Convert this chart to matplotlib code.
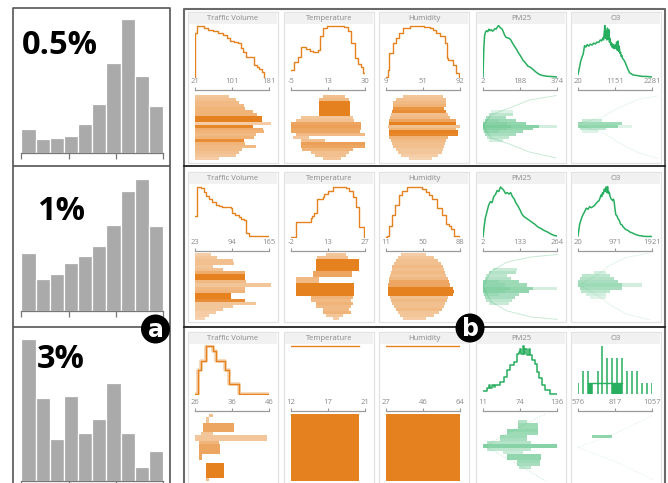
import numpy as np
import matplotlib
matplotlib.use('Agg')
import matplotlib.pyplot as plt
from matplotlib.colors import to_rgba
from matplotlib.patches import Rectangle, Circle

W, H = 668, 483
ORANGE = '#e6811f'
GREEN = '#27ae5f'
GRAY_TXT = '#8a8a8a'

# ---- (a) sample-rate histograms, bar heights ----
hist_05 = [24, 14, 15, 17, 29, 49, 90, 134, 77, 47]
hist_1 = [58, 32, 37, 48, 55, 65, 86, 120, 132, 85]
hist_3 = [142, 83, 42, 85, 48, 62, 98, 48, 14, 30]
hist_labels = ['0.5%', '1%', '3%']

attr_names = ['Traffic Volume', 'Temperature', 'Humidity', 'PM25', 'O3']

# ---- (b) row 1 : 0.5 % ----
tv1_ticks = ['21', '101', '181']
tv1_x = [21, 22, 25, 30, 40, 50, 60, 70, 81, 90, 96, 105, 113, 120, 125, 131, 142, 149, 155, 160, 165, 170]
tv1_y = [0, 0.85, 1.0, 0.99, 0.96, 0.92, 0.89, 0.86, 0.82, 0.76, 0.69, 0.68, 0.66, 0.56, 0.48, 0.39, 0.38, 0.23, 0.2, 0.16, 0.1, 0.0]
tv1_hi = [0.43, 0.51, 0.55, 0.61, 0.63, 0.72, 0.78, 0.84, 0.84, 0.95, 0.72, 0.85, 0.86, 0.76, 0.74, 0.61, 0.63, 0.76, 0.59, 0.55, 0.51, 0.30]
tv1_a = [0.45, 0.5, 0.55, 0.55, 0.6, 0.6, 0.6, 1.0, 1.0, 0.4, 0.95, 0.65, 0.6, 0.55, 0.6, 0.9, 0.6, 0.55, 0.55, 0.5, 0.45, 0.4]

temp1_ticks = ['-5', '13', '30']
temp1_x = [-5, -3.4, -1.7, -0.1, 2.3, 4.0, 5.6, 8.0, 8.5, 10.1, 12.1, 17.0, 20.2, 21.9, 23.5, 25.1, 26.7, 28.0, 29.2, 30]
temp1_y = [0.14, 0.30, 0.38, 0.59, 0.55, 0.51, 0.49, 0.53, 0.79, 0.95, 0.99, 1.0, 0.97, 0.89, 0.66, 0.36, 0.26, 0.2, 0.07, 0.07]
temp1_lo = [0.40, 0.35, 0.35, 0.35, 0.35, 0.35, 0.35, 0.125, 0.06, 0.0, 0.0, 0.0, 0.0, 0.06, 0.03, 0.12, 0.125, 0.125, 0.14, 0.25, 0.30, 0.40]
temp1_hi = [0.67, 0.73, 0.74, 0.74, 0.74, 0.74, 0.74, 0.77, 0.79, 0.875, 0.875, 0.88, 0.86, 0.92, 0.23, 0.42, 0.92, 0.92, 0.77, 0.72, 0.69, 0.62]
temp1_a = [0.5, 0.55, 1, 1, 1, 1, 1, 0.45, 0.5, 0.7, 0.75, 0.7, 0.7, 0.55, 0.45, 0.5, 0.75, 0.7, 0.6, 0.5, 0.5, 0.45]

hum1_ticks = ['9', '51', '92']
hum1_x = [9, 10.8, 12.7, 16.5, 20.3, 24, 27.8, 35.4, 45, 52, 58, 62, 65.6, 70, 75, 77, 78.8, 84, 88, 91]
hum1_y = [0.0, 0.13, 0.46, 0.66, 0.76, 0.86, 0.95, 0.99, 1.0, 0.98, 0.95, 0.91, 0.86, 0.8, 0.66, 0.36, 0.33, 0.23, 0.07, 0.0]
hum1_lo = [0.21, 0.125, 0.083, 0.083, 0.083, 0.075, 0.06, 0.05, 0.04, 0.033, 0.02, 0.033, 0.033, 0.033, 0.04, 0.06, 0.07, 0.083, 0.125, 0.15, 0.19, 0.29]
hum1_hi = [0.71, 0.75, 0.75, 0.75, 0.73, 0.75, 0.77, 0.80, 0.875, 0.88, 0.92, 0.875, 0.90, 0.90, 0.77, 0.75, 0.74, 0.73, 0.71, 0.70, 0.65, 0.58]
hum1_a = [0.45, 0.5, 0.55, 0.6, 0.85, 0.9, 0.5, 0.55, 0.7, 1.0, 0.5, 0.6, 1.0, 0.95, 0.6, 0.55, 0.5, 0.5, 0.45, 0.45, 0.4, 0.35]

pm1_ticks = ['2', '188', '374']
pm1_x = [2, 6, 10, 14, 20, 26, 32, 38, 44, 50, 56, 62, 68, 74, 80, 86, 92, 98, 104, 110, 118, 126, 134, 142, 150, 160, 170, 180, 192, 204, 216, 228, 240, 255, 270, 285, 300, 320, 340, 374]
pm1_y = [0, 0.55, 0.8, 0.87, 0.9, 0.88, 0.93, 0.9, 0.92, 0.89, 0.91, 0.94, 0.93, 0.97, 1.0, 0.97, 0.95, 0.93, 0.88, 0.82, 0.77, 0.76, 0.75, 0.72, 0.66, 0.6, 0.54, 0.47, 0.4, 0.32, 0.27, 0.21, 0.19, 0.14, 0.09, 0.05, 0.03, 0.015, 0.01, 0.0]
pm1_row = [5, 6, 7, 8, 9, 10, 10, 11, 12, 13, 14, 15, 8, 9, 10, 11, 12]
pm1_lo = [0.10, 0.07, 0.04, 0.02, 0.0, 0.0, 0.70, 0.0, 0.01, 0.03, 0.05, 0.07, 0.0, 0.0, 0.0, 0.0, 0.0]
pm1_hi = [0.37, 0.37, 0.29, 0.41, 0.54, 0.70, 0.93, 0.62, 0.50, 0.41, 0.33, 0.25, 0.2, 0.3, 0.35, 0.3, 0.2]
pm1_a = [0.15, 0.3, 0.4, 0.45, 0.5, 0.55, 0.2, 0.5, 0.45, 0.4, 0.3, 0.2, 0.1, 0.1, 0.12, 0.1, 0.1]
pm1_env_x = [0.0, 0.1, 0.33, 0.58, 0.91]
pm1_env_top = [10.5, 6.7, 4.4, 1.7, 0.2]
pm1_env_bot = [10.5, 14.5, 16.6, 19.3, 21.3]

o3_1_ticks = ['20', '1151', '2281']
o3_1_x = [20, 60, 100, 140, 180, 220, 260, 300, 350, 400, 450, 500, 550, 600, 650, 700, 740, 780, 800, 820,
          840, 860, 880, 900, 920, 940, 960, 980, 1000, 1020, 1040, 1060, 1080, 1100, 1120, 1140, 1160, 1180, 1200, 1220,
          1240, 1260, 1280, 1300, 1320, 1340, 1360, 1380, 1400, 1450, 1500, 1550, 1600, 1650, 1700, 1800, 1900, 2000, 2100, 2200, 2281]
o3_1_y = [0.05, 0.17, 0.3, 0.38, 0.45, 0.61, 0.58, 0.63, 0.6, 0.64, 0.62, 0.66, 0.64, 0.68, 0.67, 0.72, 0.7, 0.76, 0.72, 0.85,
          1.0, 0.75, 0.9, 0.72, 0.95, 0.73, 0.92, 0.68, 0.75, 0.62, 0.66, 0.58, 0.64, 0.56, 0.62, 0.55, 0.62, 0.56, 0.68, 0.52,
          0.7, 0.5, 0.6, 0.46, 0.48, 0.4, 0.42, 0.36, 0.35, 0.3, 0.22, 0.14, 0.08, 0.06, 0.04, 0.03, 0.02, 0.01, 0.01, 0.005, 0.0]
o3_1_row = [8, 9, 10, 11, 12, 10]
o3_1_lo = [0.05, 0.0, 0.0, 0.02, 0.05, 0.5]
o3_1_hi = [0.3, 0.55, 0.5, 0.35, 0.25, 0.68]
o3_1_a = [0.25, 0.45, 0.5, 0.3, 0.15, 0.15]
o3_1_env_x = [0.03, 0.3, 0.5, 0.75, 1.0]
o3_1_env_top = [9.5, 7.5, 4.5, 1.5, 0.3]
o3_1_env_bot = [10.5, 12.5, 16, 19.5, 21.5]

# ---- (b) row 2 : 1 % ----
tv2_ticks = ['23', '94', '165']
tv2_x = [23, 27.5, 30, 33.9, 40.3, 45, 49.9, 56, 62.7, 70, 75.5, 85, 91.4, 94.6, 100, 107.4, 112, 117, 120.2, 126.6, 140, 165]
tv2_y = [0.41, 0.99, 1.0, 0.97, 0.89, 0.82, 0.76, 0.7, 0.63, 0.61, 0.6, 0.59, 0.58, 0.47, 0.43, 0.39, 0.36, 0.34, 0.08, 0.02, 0.01, 0.01]
tv2_hi = [0.2, 0.28, 0.47, 0.49, 0.22, 0.35, 0.62, 0.62, 0.62, 0.64, 0.95, 0.63, 0.62, 0.45, 0.45, 0.62, 0.76, 0.47, 0.35, 0.26, 0.18, 0.12]
tv2_a = [0.4, 0.45, 0.5, 0.5, 0.45, 0.5, 0.65, 1, 1, 0.55, 0.45, 0.55, 0.6, 1, 1, 0.9, 0.45, 0.45, 0.45, 0.4, 0.4, 0.35]

temp2_ticks = ['-2', '13', '27']
temp2_x = [-2, -0.2, 5.9, 6.3, 7.0, 8.1, 10.4, 10.8, 12.5, 14.6, 17, 19.4, 20.8, 22.2, 23.3, 24.7, 26.7, 27]
temp2_y = [0.0, 0.30, 0.37, 0.42, 0.47, 0.76, 0.80, 0.86, 0.92, 0.99, 1.0, 0.97, 0.92, 0.79, 0.6, 0.19, 0.0, 0.0]
temp2_lo = [0.44, 0.33, 0.31, 0.31, 0.31, 0.31, 0.28, 0.28, 0.06, 0.06, 0.06, 0.06, 0.06, 0.06, 0.25, 0.25, 0.31, 0.31, 0.40, 0.40, 0.44, 0.52]
temp2_hi = [0.69, 0.71, 0.85, 0.85, 0.85, 0.85, 0.76, 0.76, 0.35, 0.35, 0.79, 0.79, 0.79, 0.79, 0.77, 0.75, 0.77, 0.75, 0.73, 0.75, 0.65, 0.60]
temp2_a = [0.45, 0.5, 1, 1, 1, 1, 0.7, 0.7, 0.55, 0.55, 1, 1, 1, 1, 0.6, 0.55, 0.6, 0.55, 0.55, 0.6, 0.45, 0.4]

hum2_ticks = ['11', '50', '88']
hum2_x = [11, 12, 13.8, 17.3, 20.8, 24.3, 27.7, 33, 41.7, 48, 52.2, 55.6, 59, 64.3, 69.5, 73, 76.5, 78.2, 81.7, 84, 88]
hum2_y = [0, 0.02, 0.21, 0.44, 0.63, 0.83, 0.92, 0.99, 0.99, 0.95, 0.89, 0.83, 0.76, 0.57, 0.44, 0.25, 0.21, 0.15, 0.02, 0.02, 0.0]
hum2_lo = [0.19, 0.15, 0.12, 0.10, 0.08, 0.075, 0.06, 0.05, 0.04, 0.033, 0.02, 0.02, 0.02, 0.03, 0.05, 0.06, 0.08, 0.10, 0.125, 0.15, 0.17, 0.21]
hum2_hi = [0.5, 0.6, 0.65, 0.69, 0.71, 0.73, 0.74, 0.75, 0.77, 0.79, 0.80, 0.84, 0.85, 0.84, 0.77, 0.76, 0.74, 0.72, 0.70, 0.66, 0.60, 0.5]
hum2_a = [0.4, 0.45, 0.5, 0.5, 0.55, 0.5, 0.55, 0.5, 0.55, 0.7, 0.7, 1, 1, 1, 0.5, 0.55, 0.5, 0.5, 0.55, 0.45, 0.45, 0.4]

pm2_ticks = ['2', '133', '264']
pm2_x = [2, 6, 10, 16, 22, 28, 34, 40, 46, 52, 58, 64, 70, 76, 82, 88, 94, 100, 106, 112, 118, 124, 132, 140, 148, 156, 166, 176, 186, 196, 206, 218, 230, 242, 254, 264]
pm2_y = [0, 0.2, 0.37, 0.5, 0.63, 0.7, 0.68, 0.8, 0.84, 0.92, 0.9, 0.99, 0.96, 0.92, 0.86, 0.88, 0.85, 0.88, 0.8, 0.76, 0.68, 0.63, 0.55, 0.45, 0.4, 0.37, 0.33, 0.29, 0.25, 0.2, 0.17, 0.13, 0.1, 0.06, 0.03, 0.02]
pm2_row = [5, 6, 7, 8, 9, 10, 11, 11, 12, 13, 14, 15, 16, 9, 10, 11, 12, 13]
pm2_lo = [0.12, 0.08, 0.04, 0.02, 0.0, 0.0, 0.0, 0.62, 0.0, 0.01, 0.02, 0.04, 0.07, 0.0, 0.0, 0.0, 0.0, 0.0]
pm2_hi = [0.42, 0.41, 0.30, 0.35, 0.45, 0.55, 0.62, 0.93, 0.58, 0.45, 0.40, 0.36, 0.33, 0.2, 0.28, 0.34, 0.28, 0.2]
pm2_a = [0.25, 0.35, 0.3, 0.35, 0.45, 0.45, 0.5, 0.2, 0.5, 0.4, 0.4, 0.3, 0.25, 0.1, 0.1, 0.12, 0.1, 0.1]
pm2_env_x = [0.0, 0.1, 0.3, 0.6, 0.93]
pm2_env_top = [11, 6, 3, 1.3, 0.5]
pm2_env_bot = [11, 16, 19, 21, 21.8]

o3_2_ticks = ['20', '971', '1921']
o3_2_x = [20, 62, 105, 147, 190, 231, 275, 320, 360, 400, 440, 480, 527, 560, 590, 611, 630, 650, 670, 696,
          720, 740, 760, 780, 800, 823, 845, 865, 890, 910, 930, 949, 970, 992, 1020, 1050, 1080, 1118, 1150, 1180,
          1245, 1300, 1350, 1414, 1500, 1580, 1668, 1750, 1850, 1921]
o3_2_y = [0.02, 0.25, 0.36, 0.44, 0.5, 0.57, 0.55, 0.6, 0.58, 0.6, 0.62, 0.66, 0.7, 0.72, 0.78, 0.83, 0.8, 0.88, 0.85, 0.95,
          0.9, 0.99, 0.88, 1.0, 0.86, 0.89, 0.8, 0.76, 0.74, 0.72, 0.75, 0.7, 0.55, 0.44, 0.42, 0.36, 0.33, 0.25, 0.24, 0.2,
          0.15, 0.13, 0.1, 0.08, 0.05, 0.03, 0.02, 0.01, 0.01, 0.01]
o3_2_row = [6, 7, 8, 9, 10, 10, 11, 12, 13, 14]
o3_2_lo = [0.2, 0.05, 0.03, 0.0, 0.0, 0.55, 0.02, 0.04, 0.1, 0.15]
o3_2_hi = [0.35, 0.4, 0.45, 0.5, 0.55, 0.8, 0.55, 0.4, 0.35, 0.35]
o3_2_a = [0.2, 0.3, 0.35, 0.4, 0.45, 0.2, 0.4, 0.3, 0.2, 0.15]
o3_2_env_x = [0.05, 0.25, 0.4, 0.6, 0.9]
o3_2_env_top = [10, 7, 4, 1.5, 0]
o3_2_env_bot = [11, 14, 17, 20, 22]

# ---- (b) row 3 : 3 % ----
tv3_ticks = ['26', '36', '46']
tv3_x = [26, 26.7, 27.6, 29, 30.9, 31.8, 34.1, 35.1, 37.9, 46]
tv3_y = [0.01, 0.5, 0.69, 1.0, 0.9, 0.69, 0.5, 0.21, 0.01, 0.01]
tv3_lo = [0.18, 0.14, 0.14, 0.10, 0.10, 0.10, 0.075, 0.0, 0.0, 0.05, 0.046, 0.046, 0.046, 0.046, 0.046, 0, 0.14, 0.14, 0.14, 0.14, 0.14, 0.14]
tv3_hi = [0.22, 0.18, 0.18, 0.49, 0.49, 0.49, 0.22, 0.9, 0.9, 0.30, 0.31, 0.31, 0.31, 0.09, 0.09, 0, 0.36, 0.36, 0.36, 0.36, 0.36, 0.18]
tv3_a = [0.5, 0.45, 0.45, 0.7, 0.7, 0.7, 0.45, 0.45, 0.45, 0.6, 0.7, 0.7, 0.7, 0.7, 0.7, 0, 1, 1, 1, 1, 1, 0.5]

temp3_ticks = ['12', '17', '21']
temp3_x = [12, 20.3]
temp3_y = [1.0, 1.0]
temp3_hi = [0.85]
temp3_span = [22]

hum3_ticks = ['27', '46', '64']
hum3_x = [27, 63.6]
hum3_y = [1.0, 1.0]
hum3_hi = [0.92]
hum3_span = [22]

pm3_ticks = ['11', '74', '136']
pm3_x = [11, 17.8, 20.6, 23, 26.2, 29, 32, 34.6, 40.3, 45.9, 51.5, 57.2, 62.8, 68.4, 71.2, 74, 76, 78.6, 80, 82.5, 85, 88.1, 91, 93.8, 99.4, 102.2, 105, 110.7, 116.3, 124.7, 136]
pm3_y = [0.07, 0.12, 0.19, 0.13, 0.19, 0.14, 0.19, 0.19, 0.26, 0.35, 0.5, 0.6, 0.67, 0.85, 0.88, 0.95, 0.85, 1.0, 0.85, 0.95, 0.81, 0.95, 0.81, 0.71, 0.64, 0.47, 0.33, 0.19, 0.08, 0.0, 0.0]
pm3_row = [2, 3, 4, 5, 6, 7, 8, 9, 10, 11, 12, 13, 14, 15, 16, 17]
pm3_lo = [0.44, 0.44, 0.44, 0.3, 0.3, 0.21, 0.21, 0.05, 0.0, 0.05, 0.25, 0.3, 0.3, 0.42, 0.42, 0.45]
pm3_hi = [0.55, 0.69, 0.69, 0.69, 0.69, 0.55, 0.55, 0.6, 0.93, 0.6, 0.5, 0.73, 0.73, 0.71, 0.71, 0.6]
pm3_a = [0.35, 0.45, 0.45, 0.5, 0.45, 0.45, 0.4, 0.35, 0.55, 0.3, 0.25, 0.5, 0.5, 0.45, 0.4, 0.3]
pm3_env_x = [0.02, 0.4, 0.78]
pm3_env_top = [10.5, 5, 0]
pm3_env_bot = [10.5, 16, 22]

o3_3_ticks = ['576', '817', '1057']
o3_3_x = [576, 608, 638, 670, 705, 735, 767, 799, 831, 864, 896, 928, 960, 993, 1025, 1057]
o3_3_y = [0.24, 0.49, 0.49, 0.24, 0.49, 1.0, 0.75, 0.75, 0.75, 0.75, 0.49, 0.49, 0.49, 0.24, 0.24, 0.24]
o3_3_block_lo = [638, 799]
o3_3_block_hi = [670, 864]
o3_3_block_y = [0.24, 0.24]
o3_3_row = [7]
o3_3_lo = [0.18]
o3_3_hi = [0.43]
o3_3_a = [0.5]
o3_3_env_x = [0.0, 0.5, 0.93]
o3_3_env_top = [11, 6, 0.5]
o3_3_env_bot = [11, 16, 21.5]

# table of cards built from the arrays above
cards = [
    [dict(kind='step', x=tv1_x, y=tv1_y, ticks=tv1_ticks, vio=dict(hi=tv1_hi, a=tv1_a)),
     dict(kind='step', x=temp1_x, y=temp1_y, ticks=temp1_ticks, vio=dict(lo=temp1_lo, hi=temp1_hi, a=temp1_a)),
     dict(kind='step', x=hum1_x, y=hum1_y, ticks=hum1_ticks, vio=dict(lo=hum1_lo, hi=hum1_hi, a=hum1_a)),
     dict(kind='line', x=pm1_x, y=pm1_y, ticks=pm1_ticks,
          vio=dict(row=pm1_row, lo=pm1_lo, hi=pm1_hi, a=pm1_a), env=(pm1_env_x, pm1_env_top, pm1_env_bot, 0.25, '-')),
     dict(kind='line', x=o3_1_x, y=o3_1_y, ticks=o3_1_ticks,
          vio=dict(row=o3_1_row, lo=o3_1_lo, hi=o3_1_hi, a=o3_1_a), env=(o3_1_env_x, o3_1_env_top, o3_1_env_bot, 0.1, '-'))],
    [dict(kind='step', x=tv2_x, y=tv2_y, ticks=tv2_ticks, vio=dict(hi=tv2_hi, a=tv2_a)),
     dict(kind='step', x=temp2_x, y=temp2_y, ticks=temp2_ticks, vio=dict(lo=temp2_lo, hi=temp2_hi, a=temp2_a)),
     dict(kind='step', x=hum2_x, y=hum2_y, ticks=hum2_ticks, vio=dict(lo=hum2_lo, hi=hum2_hi, a=hum2_a)),
     dict(kind='line', x=pm2_x, y=pm2_y, ticks=pm2_ticks,
          vio=dict(row=pm2_row, lo=pm2_lo, hi=pm2_hi, a=pm2_a), env=(pm2_env_x, pm2_env_top, pm2_env_bot, 0.25, '-')),
     dict(kind='line', x=o3_2_x, y=o3_2_y, ticks=o3_2_ticks,
          vio=dict(row=o3_2_row, lo=o3_2_lo, hi=o3_2_hi, a=o3_2_a), env=(o3_2_env_x, o3_2_env_top, o3_2_env_bot, 0.12, '-'))],
    [dict(kind='step', x=tv3_x, y=tv3_y, ticks=tv3_ticks, vio=dict(lo=tv3_lo, hi=tv3_hi, a=tv3_a)),
     dict(kind='step', x=temp3_x, y=temp3_y, ticks=temp3_ticks, vio=dict(hi=temp3_hi, a=[1.0], span=temp3_span)),
     dict(kind='step', x=hum3_x, y=hum3_y, ticks=hum3_ticks, vio=dict(hi=hum3_hi, a=[1.0], span=hum3_span)),
     dict(kind='pstep', x=pm3_x, y=pm3_y, ticks=pm3_ticks,
          vio=dict(row=pm3_row, lo=pm3_lo, hi=pm3_hi, a=pm3_a), env=(pm3_env_x, pm3_env_top, pm3_env_bot, 0.3, ':')),
     dict(kind='spikes', x=o3_3_x, y=o3_3_y, ticks=o3_3_ticks,
          vio=dict(row=o3_3_row, lo=o3_3_lo, hi=o3_3_hi, a=o3_3_a), env=(o3_3_env_x, o3_3_env_top, o3_3_env_bot, 0.18, ':'))],
]

# layout (pixels)
CARD_X = [188, 284, 379, 476, 571]
CARD_W = 90
ROW_TOP = [12, 172, 332]
ROW_BOT = [163, 322, 486]
LINE_TOP = [24, 185, 345]
LINE_BOT = [78, 238, 395]
AXIS_Y = [90, 251, 410.5]
VIO_TOP = [95, 253, 414]
VIO_BOT = [160, 320, 481]

fig = plt.figure(figsize=(W / 100, H / 100), dpi=100)


def px_axes(x, y, w, h, **kw):
    ax = fig.add_axes([x / W, 1 - (y + h) / H, w / W, h / H], **kw)
    ax.patch.set_visible(False)
    return ax


bg = px_axes(0, 0, W, H)
bg.set_xlim(0, W)
bg.set_ylim(H, 0)
bg.axis('off')

# frames
frame = dict(color='#555555', lw=1.2, solid_capstyle='butt')
bg.plot([13, 13, 170, 170], [H, 8, 8, H], **frame)
for yy in [165.5, 327]:
    bg.plot([13, 170], [yy, yy], **frame)
bg.plot([184, 184, 665, 665], [H, 8.5, 8.5, H], color='#6a6a6a', lw=1.5)
for yy in [165.5, 326.5]:
    bg.plot([184, 665], [yy, yy], color='#222222', lw=1.3)

# (a) histograms
for heights, base in zip([hist_05, hist_1, hist_3], [153, 311, 481]):
    ax = px_axes(21.5, base - 146, 141.5, 146)
    ax.bar(np.arange(10), heights, width=1, align='edge', color='#aaaaaa', edgecolor='white', linewidth=0.9)
    ax.set_xlim(0, 10)
    ax.set_ylim(0, 146)
    for s in ['top', 'right', 'left']:
        ax.spines[s].set_visible(False)
    ax.spines['bottom'].set_color('#777777')
    ax.spines['bottom'].set_linewidth(0.9)
    ax.set_xticks([0, 10 / 3, 20 / 3, 10])
    ax.set_xticklabels([])
    ax.set_yticks([])
    ax.tick_params(axis='x', length=4, width=0.9, color='#777777')


def draw_violin(ax, v, color):
    hi = np.asarray(v['hi'], float)
    lo = np.asarray(v.get('lo', np.zeros(len(hi))), float)
    rows = np.asarray(v.get('row', np.arange(len(hi))), float)
    span = np.asarray(v.get('span', np.ones(len(hi))), float)
    cols = [to_rgba(color, a) for a in v['a']]
    ax.barh(rows, hi - lo, left=lo, height=span, align='edge', color=cols, linewidth=0, antialiased=False)


# (b) cards
for r, row in enumerate(cards):
    for c, spec in enumerate(row):
        x0 = CARD_X[c]
        y0 = ROW_TOP[r]
        color = ORANGE if c < 3 else GREEN
        bg.add_patch(Rectangle((x0, y0), CARD_W, ROW_BOT[r] - y0, fc='white', ec='#e2e2e2', lw=0.9))
        bg.add_patch(Rectangle((x0 + 0.6, y0 + 0.6), CARD_W - 1.2, 11, fc='#f1f1f1', ec='none'))
        bg.text(x0 + CARD_W / 2, y0 + 6, attr_names[c], ha='center', va='center',
                fontsize=5.5, color=GRAY_TXT, family='Open Sans')

        lo_v = float(spec['ticks'][0])
        hi_v = float(spec['ticks'][2])

        # distribution line
        lax = px_axes(x0 + 7, LINE_TOP[r], 74, LINE_BOT[r] - LINE_TOP[r])
        lax.axis('off')
        lax.set_xlim(lo_v, hi_v)
        lax.set_ylim(-0.02, 1.03)
        if spec['kind'] == 'step':
            if r == 2 and c == 0:
                lax.step(spec['x'], spec['y'], where='post', color=color, lw=2.6, alpha=0.35)
            lax.step(spec['x'], spec['y'], where='post', color=color, lw=1.0)
        elif spec['kind'] == 'pstep':
            lax.step(spec['x'], spec['y'], where='post', color=color, lw=1.1)
        elif spec['kind'] == 'line':
            lax.plot(spec['x'], spec['y'], color=color, lw=1.1)
        else:
            lax.vlines(spec['x'], 0, spec['y'], color=color, lw=1.1)
            for bl, bh, by in zip(o3_3_block_lo, o3_3_block_hi, o3_3_block_y):
                lax.bar(bl, by, width=bh - bl, align='edge', color=color, linewidth=0)
            lax.plot([o3_3_block_lo[0], o3_3_block_hi[-1]], [o3_3_block_y[0], o3_3_block_y[-1]], color=color, lw=1.0)

        # value axis with labels above
        tax = px_axes(x0 + 7, AXIS_Y[r], 74, 1)
        tax.set_xlim(lo_v, hi_v)
        for s in ['bottom', 'left', 'right']:
            tax.spines[s].set_visible(False)
        tax.spines['top'].set_color('#9a9a9a')
        tax.spines['top'].set_linewidth(0.9)
        tax.xaxis.tick_top()
        tax.set_xticks([lo_v, (lo_v + hi_v) / 2, hi_v])
        tax.set_xticklabels(spec['ticks'], family='Open Sans')
        tax.set_yticks([])
        tax.tick_params(axis='x', length=2.5, width=0.8, color='#9a9a9a', labelsize=5.5,
                        labelcolor=GRAY_TXT, pad=0.8)

        # value-distribution bars
        vax = px_axes(x0 + 7, VIO_TOP[r], 80, VIO_BOT[r] - VIO_TOP[r])
        vax.axis('off')
        vax.set_xlim(0, 1)
        vax.set_ylim(22, 0)
        draw_violin(vax, spec['vio'], color)
        if 'env' in spec:
            ex, et, eb, ea, ls = spec['env']
            vax.plot(ex, et, color=color, alpha=ea, lw=0.7, ls=ls)
            vax.plot(ex, eb, color=color, alpha=ea, lw=0.7, ls=ls)

# overlay: labels and badges
ov = px_axes(0, 0, W, H, zorder=10)
ov.set_xlim(0, W)
ov.set_ylim(H, 0)
ov.axis('off')
for lab, (lx, ly) in zip(hist_labels, [(22, 46), (37, 211), (37, 359)]):
    ov.text(lx, ly, lab, fontsize=23.5, fontweight='bold', family='Open Sans', ha='left', va='center', color='black')
for lab, (cx, cy) in zip(['a', 'b'], [(155.5, 329), (470, 328)]):
    ov.add_patch(Circle((cx, cy), 14.5, fc='black', ec='none'))
    ov.text(cx, cy + 1, lab, fontsize=17, fontweight='bold', family='DejaVu Sans', ha='center', va='center', color='white')

fig.savefig('out.png', dpi=100)
